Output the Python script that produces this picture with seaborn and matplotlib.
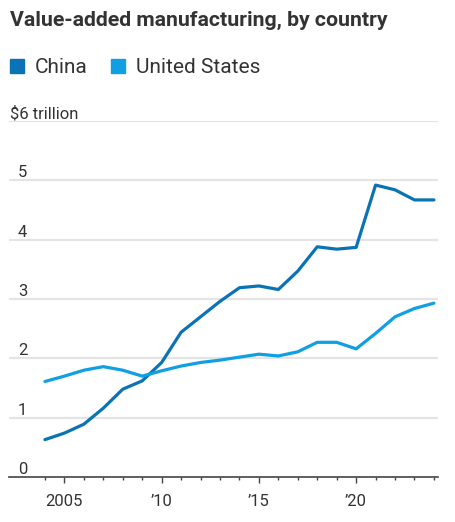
import matplotlib
matplotlib.use("Agg")
import matplotlib.pyplot as plt
import seaborn as sns
import pandas as pd
from matplotlib.lines import Line2D
from matplotlib.ticker import FixedLocator

years = list(range(2004, 2025))
china = [0.63, 0.74, 0.89, 1.16, 1.48, 1.62, 1.93, 2.44, 2.70, 2.96, 3.19, 3.22, 3.16,
         3.47, 3.88, 3.84, 3.87, 4.92, 4.84, 4.67, 4.67]
us = [1.61, 1.70, 1.80, 1.86, 1.80, 1.70, 1.79, 1.87, 1.93, 1.97, 2.02, 2.07, 2.04,
      2.11, 2.27, 2.27, 2.16, 2.42, 2.70, 2.84, 2.93]
series_names = ["China", "United States"]
colors = ["#0a73b5", "#0f9fe2"]
x_ticks = [2005, 2010, 2015, 2020]
x_tick_labels = ["2005", "\u201910", "\u201915", "\u201920"]
y_ticks = [0, 1, 2, 3, 4, 5, 6]
y_tick_labels = ["0", "1", "2", "3", "4", "5", "$6 trillion"]
title = "Value-added manufacturing, by country"

sns.set_theme(style="white")
plt.rcParams["font.family"] = ["Roboto", "DejaVu Sans"]

df = pd.DataFrame({"year": years * 2,
                   "value": china + us,
                   "country": [series_names[0]] * len(years) + [series_names[1]] * len(years)})

W, H = 456, 522
fig = plt.figure(figsize=(W / 100, H / 100), dpi=100)
ax = fig.add_axes([9 / W, 1 - 477 / H, 429 / W, 356 / H])

for yv in y_ticks[1:]:
    ax.axhline(yv, color="#e4e4e4", lw=1.6, zorder=0)

sns.lineplot(data=df, x="year", y="value", hue="country", palette=colors,
             hue_order=series_names, lw=2.3, ax=ax, legend=False, zorder=3)

ax.set_xlim(2002.15, 2024.21)
ax.set_ylim(0, 6)
for s in ["top", "right", "left"]:
    ax.spines[s].set_visible(False)
ax.spines["bottom"].set_color("#444444")
ax.spines["bottom"].set_linewidth(1.2)
ax.spines["bottom"].set_zorder(4)

ax.xaxis.set_major_locator(FixedLocator(x_ticks))
ax.set_xticklabels(x_tick_labels)
ax.xaxis.set_minor_locator(FixedLocator(years))
ax.tick_params(axis="x", which="major", length=4.5, width=1, color="#444444",
               labelsize=12, labelcolor="#333333", pad=7.5, bottom=True)
ax.tick_params(axis="x", which="minor", length=2.5, width=1, color="#444444", bottom=True)
ax.set_yticks([])
ax.set_xlabel("")
ax.set_ylabel("")

for yv, lab in zip(y_ticks, y_tick_labels):
    xpos = 10 / W if lab.startswith("$") else 18 / W
    fig.text(xpos, 1 - (477 - yv * 59.33 - 3) / H, lab, ha="left", va="baseline",
             fontsize=12, color="#333333")

fig.text(10 / W, 1 - 25.5 / H, title, ha="left", va="baseline", fontsize=15.3,
         fontweight="bold", color="#333333")

handles = [Line2D([0], [0], marker="s", color=c, linestyle="none", markersize=10.5)
           for c in colors]
fig.legend(handles, series_names, loc="upper left", bbox_to_anchor=(2 / W, 1 - 54 / H),
           ncol=2, frameon=False, fontsize=15, handlelength=1.0, handletextpad=0.35,
           columnspacing=1.0, labelcolor="#333333", borderaxespad=0, borderpad=0.2)

fig.savefig("out.png", dpi=100)
